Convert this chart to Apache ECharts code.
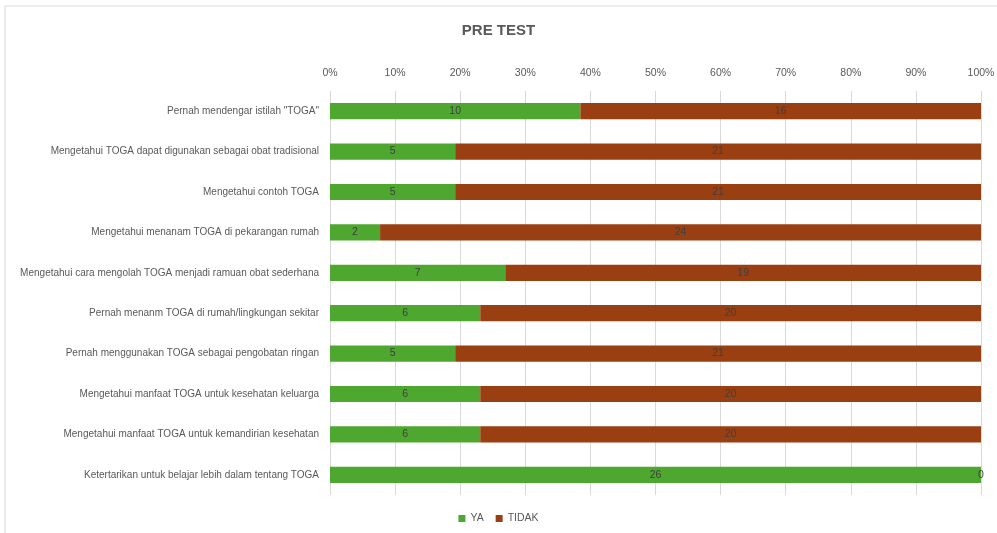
<!DOCTYPE html>
<html>
<head>
<meta charset="utf-8">
<script src="https://cdn.jsdelivr.net/npm/echarts@6/dist/echarts.min.js"></script>
<style>
  html, body { margin: 0; padding: 0; background: #fff; }
  #main { width: 997px; height: 533px; }
</style>
</head>
<body>
<div id="main"></div>
<script>
// kategori pertanyaan (atas ke bawah)
var categories = [
  'Pernah mendengar istilah "TOGA"',
  'Mengetahui TOGA dapat digunakan sebagai obat tradisional',
  'Mengetahui contoh TOGA',
  'Mengetahui menanam TOGA di pekarangan rumah',
  'Mengetahui cara mengolah TOGA menjadi ramuan obat sederhana',
  'Pernah menanm TOGA di rumah/lingkungan sekitar',
  'Pernah menggunakan TOGA sebagai pengobatan ringan',
  'Mengetahui manfaat TOGA untuk kesehatan keluarga',
  'Mengetahui manfaat TOGA untuk kemandirian kesehatan',
  'Ketertarikan untuk belajar lebih dalam tentang TOGA'
];
var ya = [10, 5, 5, 2, 7, 6, 5, 6, 6, 26];
var tidak = [16, 21, 21, 24, 19, 20, 21, 20, 20, 0];
var tickLabels = ['0%', '10%', '20%', '30%', '40%', '50%', '60%', '70%', '80%', '90%', '100%'];

var font = '"Liberation Sans", Arial, sans-serif';

// ubah ke persen (100% stacked), label tetap jumlah
function toPercent(arr) {
  return arr.map(function (v, i) {
    var total = ya[i] + tidak[i];
    return { value: v / total * 100, count: v };
  });
}

var myChart = echarts.init(document.getElementById('main'));
var labelOpt = {
  show: true,
  position: 'inside',
  color: '#404040',
  fontSize: 10.5,
  fontFamily: font,
  formatter: function (p) { return p.data.count; }
};

var option = {
  animation: false,
  textStyle: { fontFamily: font },
  title: {
    text: 'PRE TEST',
    left: 'center',
    top: 18,
    textStyle: { fontSize: 15, fontWeight: 'bold', color: '#595959', fontFamily: font }
  },
  graphic: [{
    type: 'rect',
    shape: { x: 5, y: 6, width: 1000, height: 540 },
    style: { fill: 'none', stroke: '#d9d9d9', lineWidth: 1 },
    silent: true
  }],
  legend: {
    bottom: 4,
    left: 'center',
    itemWidth: 7,
    itemHeight: 7,
    itemGap: 12,
    icon: 'rect',
    textStyle: { fontSize: 10.5, color: '#595959', fontFamily: font },
    data: ['YA', 'TIDAK']
  },
  grid: { left: 330, right: 16, top: 91, bottom: 38, outerBoundsMode: 'none' },
  xAxis: {
    type: 'value',
    position: 'top',
    min: 0,
    max: 100,
    interval: 10,
    axisLine: { show: false },
    axisTick: { show: false },
    axisLabel: {
      color: '#595959',
      fontSize: 10.5,
      margin: 12,
      formatter: function (v) { return tickLabels[Math.round(v / 10)]; }
    },
    splitLine: { show: true, lineStyle: { color: '#d9d9d9', width: 1 } }
  },
  yAxis: {
    type: 'category',
    inverse: true,
    data: categories,
    axisLine: { show: false },
    axisTick: { show: false },
    axisLabel: { color: '#595959', fontSize: 10, margin: 11 }
  },
  series: [{
    name: 'YA',
    type: 'bar',
    stack: 'total',
    barWidth: '40%',
    itemStyle: { color: '#4EA72E' },
    label: labelOpt,
    data: toPercent(ya)
  }, {
    name: 'TIDAK',
    type: 'bar',
    stack: 'total',
    barWidth: '40%',
    itemStyle: { color: '#9A3F12' },
    label: labelOpt,
    data: toPercent(tidak)
  }]
};
myChart.setOption(option);
</script>
</body>
</html>
